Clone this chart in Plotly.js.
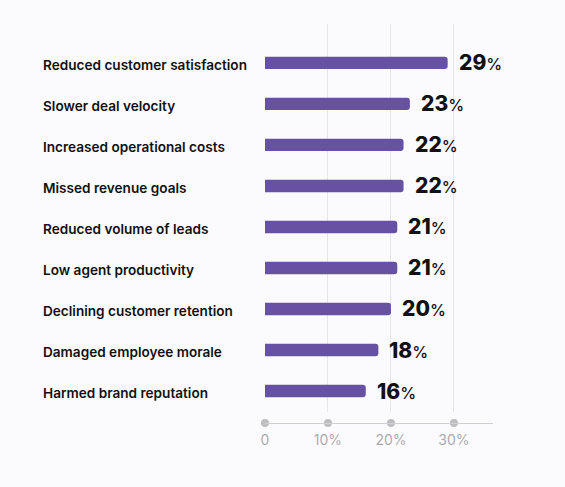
<!DOCTYPE html>
<html>
<head>
<meta charset="utf-8">
<script src="https://cdn.plot.ly/plotly-3.0.1.min.js"></script>
<style>
html,body{margin:0;padding:0;background:#fbfbfd;}
#chart{width:565px;height:487px;}
</style>
</head>
<body>
<div id="chart"></div>
<script>
const categories = [
  "Reduced customer satisfaction",
  "Slower deal velocity",
  "Increased operational costs",
  "Missed revenue goals",
  "Reduced volume of leads",
  "Low agent productivity",
  "Declining customer retention",
  "Damaged employee morale",
  "Harmed brand reputation"
];
const values = [29, 23, 22, 22, 21, 21, 20, 18, 16];
const tickValues = [0, 10, 20, 30];
const tickLabels = ["0", "10%", "20%", "30%"];

const barTrace = {
  type: 'bar',
  orientation: 'h',
  x: values,
  y: categories,
  width: 0.3,
  marker: {color: '#6651a3'},
  hoverinfo: 'none',
  xaxis: 'x',
  yaxis: 'y'
};

const dotTrace = {
  type: 'scatter',
  mode: 'markers',
  x: tickValues,
  y: tickValues.map(() => 0),
  marker: {color: '#bdbdc2', size: 8},
  cliponaxis: false,
  hoverinfo: 'none',
  xaxis: 'x2',
  yaxis: 'y2'
};

const labelAnnotations = categories.map((c) => ({
  xref: 'paper', yref: 'y',
  x: -0.9825, y: c,
  xanchor: 'left', yanchor: 'middle',
  yshift: -2,
  text: c,
  showarrow: false,
  font: {family: 'Inter, sans-serif', size: 13.6, color: '#111111', weight: 600}
}));

const valueAnnotations = values.map((v, i) => ({
  xref: 'x', yref: 'y',
  x: v, y: categories[i],
  xanchor: 'left', yanchor: 'middle',
  xshift: 9,
  text: '<span style="font-weight:800">' + v + '</span><span style="font-size:16px;font-weight:500">%</span>',
  showarrow: false,
  font: {family: 'Inter, sans-serif', size: 21, color: '#111111'}
}));

const layout = {
  width: 565, height: 487,
  margin: {l: 265, r: 72, t: 24, b: 64},
  paper_bgcolor: '#fbfbfd',
  plot_bgcolor: '#fbfbfd',
  showlegend: false,
  barcornerradius: 3,
  xaxis: {
    domain: [0, 1],
    range: [0, 36.2],
    showgrid: true,
    gridcolor: '#e6e6ea',
    gridwidth: 1,
    tickvals: tickValues,
    showticklabels: false,
    zeroline: false,
    showline: false,
    anchor: 'y',
    fixedrange: true
  },
  yaxis: {
    domain: [0.0288, 1],
    type: 'category',
    categoryorder: 'array',
    categoryarray: categories,
    range: [8.5, -0.95],
    showticklabels: false,
    showgrid: false,
    zeroline: false,
    showline: false,
    ticks: '',
    fixedrange: true
  },
  xaxis2: {
    domain: [0, 1],
    range: [0, 36.2],
    anchor: 'y2',
    showline: true,
    linecolor: '#cfcfd4',
    linewidth: 1.2,
    showgrid: false,
    zeroline: false,
    tickvals: tickValues,
    ticktext: tickLabels,
    ticks: '',
    ticklabelstandoff: 4,
    tickfont: {family: 'Inter, sans-serif', size: 14, color: '#ababb0'},
    fixedrange: true
  },
  yaxis2: {
    domain: [0, 0.02],
    range: [0, 1],
    visible: false,
    fixedrange: true
  },
  annotations: labelAnnotations.concat(valueAnnotations)
};

Plotly.newPlot('chart', [barTrace, dotTrace], layout, {displayModeBar: false, staticPlot: true});
</script>
</body>
</html>
